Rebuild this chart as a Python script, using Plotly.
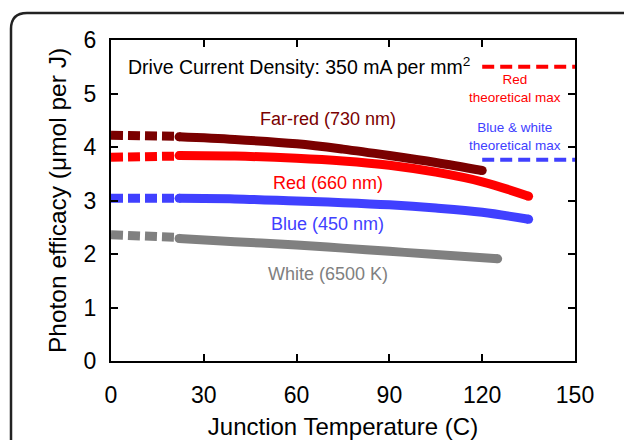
import plotly.graph_objects as go

# ---- data ----
dash_T = [0, 22]
far_red_dash = [4.22, 4.20]
red_dash = [3.81, 3.83]
blue_dash = [3.04, 3.04]
white_dash = [2.36, 2.31]

far_red_T = [22, 40, 60, 75, 90, 105, 120]
far_red_vals = [4.19, 4.14, 4.06, 3.96, 3.84, 3.71, 3.56]

red_T = [22, 40, 60, 75, 90, 105, 120, 135]
red_vals = [3.84, 3.83, 3.79, 3.74, 3.66, 3.53, 3.35, 3.08]

blue_T = [22, 40, 60, 75, 90, 105, 120, 135]
blue_vals = [3.04, 3.03, 2.99, 2.96, 2.92, 2.86, 2.78, 2.65]

white_T = [22, 40, 60, 75, 90, 105, 125]
white_vals = [2.29, 2.23, 2.17, 2.11, 2.05, 1.99, 1.91]

max_T = [120, 150]
red_max = [5.5, 5.5]
blue_white_max = [3.76, 3.76]

x_ticks = [0, 30, 60, 90, 120, 150]
y_ticks = [0, 1, 2, 3, 4, 5, 6]

FAR_RED = "#7a0000"
RED = "#ff0000"
BLUE = "#4040ff"
GRAY = "#808080"
FONT = "Liberation Sans, Arial, sans-serif"

fig = go.Figure()

series = [
    (far_red_T, far_red_vals, far_red_dash, FAR_RED),
    (red_T, red_vals, red_dash, RED),
    (blue_T, blue_vals, blue_dash, BLUE),
    (white_T, white_vals, white_dash, GRAY),
]
for T, v, d, c in series:
    fig.add_trace(go.Scatter(x=dash_T, y=d, mode="lines",
                             line=dict(color=c, width=9, dash="12px,5px"),
                             showlegend=False, hoverinfo="skip", cliponaxis=False))
    fig.add_trace(go.Scatter(x=T, y=v, mode="lines",
                             line=dict(color=c, width=9, shape="spline"),
                             showlegend=False))
    fig.add_trace(go.Scatter(x=[T[0], T[-1]], y=[v[0], v[-1]], mode="markers",
                             marker=dict(color=c, size=9, line=dict(width=0)),
                             showlegend=False, hoverinfo="skip"))

fig.add_trace(go.Scatter(x=max_T, y=red_max, mode="lines",
                         line=dict(color=RED, width=4, dash="12px,6px"),
                         showlegend=False, cliponaxis=False))
fig.add_trace(go.Scatter(x=max_T, y=blue_white_max, mode="lines",
                         line=dict(color=BLUE, width=4, dash="12px,6px"),
                         showlegend=False, cliponaxis=False))

ann = [
    dict(x=5.0, y=5.52, text="Drive Current Density: 350 mA per mm<sup>2</sup>",
         color="#000000", size=19.5, xanchor="left"),
    dict(x=70, y=4.52, text="Far-red (730 nm)", color=FAR_RED, size=18, xanchor="center"),
    dict(x=70, y=3.32, text="Red (660 nm)", color=RED, size=18, xanchor="center"),
    dict(x=70, y=2.56, text="Blue (450 nm)", color=BLUE, size=18, xanchor="center"),
    dict(x=70, y=1.62, text="White (6500 K)", color=GRAY, size=18, xanchor="center"),
    dict(x=130.5, y=5.1, text="Red<br>theoretical max", color=RED, size=13.5, xanchor="center"),
    dict(x=130.5, y=4.2, text="Blue &amp; white<br>theoretical max", color=BLUE, size=13.5, xanchor="center"),
]
for a in ann:
    fig.add_annotation(x=a["x"], y=a["y"], text=a["text"], showarrow=False,
                       xanchor=a["xanchor"], yanchor="middle",
                       font=dict(family=FONT, size=a["size"], color=a["color"]))

# outer rounded border (paper coords)
pw, ph = 464.0, 321.0
x0 = (11 - 111) / pw
yt = (361 - 13) / ph
xr = (700 - 111) / pw
yb = (361 - 520) / ph
rx, ry = 16 / pw, 16 / ph
path = (f"M {x0},{yb} L {x0},{yt - ry} Q {x0},{yt} {x0 + rx},{yt} L {xr},{yt}")
fig.add_shape(type="path", xref="paper", yref="paper", path=path,
              line=dict(color="#222222", width=2.5))

axis_common = dict(showline=True, linecolor="#000000", linewidth=2, mirror="ticks",
                   ticks="inside", ticklen=7, tickwidth=2, tickcolor="#000000",
                   showgrid=False, zeroline=False, automargin=False,
                   tickfont=dict(family=FONT, size=23, color="#000000"))

fig.update_xaxes(range=[0, 150], tickvals=x_ticks, ticklabelstandoff=12,
                 title=dict(text="Junction Temperature (C)", standoff=14,
                            font=dict(family=FONT, size=24, color="#000000")),
                 **axis_common)
fig.update_yaxes(range=[0, 6], tickvals=y_ticks, ticklabelstandoff=8,
                 title=dict(text="Photon efficacy (μmol per J)", standoff=10,
                            font=dict(family=FONT, size=24.5, color="#000000")),
                 **axis_common)

fig.update_layout(width=624, height=440, margin=dict(l=111, r=49, t=40, b=79),
                  plot_bgcolor="#ffffff", paper_bgcolor="#ffffff",
                  font=dict(family=FONT))

fig.write_html("out.html", config={"displayModeBar": False},
               post_script="document.body.style.margin='0';document.body.style.overflow='hidden';")
